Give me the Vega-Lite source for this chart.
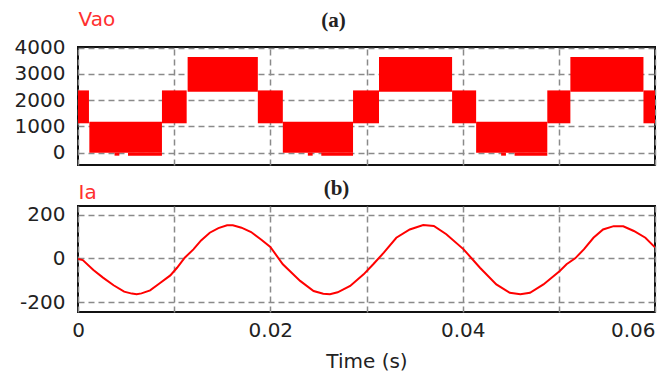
{
  "$schema": "https://vega.github.io/schema/vega-lite/v6.json",
  "background": "white",
  "padding": {"left": 13, "top": 8, "right": 2, "bottom": 2},
  "spacing": 10,
  "config": {
    "view": {"stroke": "#111", "strokeWidth": 2},
    "axis": {
      "gridColor": "#8a8a8a", "gridDash": [6, 4], "gridWidth": 1.5, "gridOpacity": 1,
      "domain": false, "ticks": false,
      "labelFont": "DejaVu Sans", "labelFontSize": 20, "labelColor": "#222",
      "titleFont": "DejaVu Sans", "titleFontWeight": "normal"
    }
  },
  "vconcat": [
    {
      "width": 577, "height": 118,
      "data": {"values": [
        {"t0": 0, "t1": 0.00114, "lo": 1120, "hi": 2370},
        {"t0": 0.00118, "t1": 0.00873, "lo": 0, "hi": 1180},
        {"t0": 0.0038, "t1": 0.0043, "lo": -110, "hi": 0},
        {"t0": 0.0052, "t1": 0.00873, "lo": -110, "hi": 0},
        {"t0": 0.00873, "t1": 0.0113, "lo": 1120, "hi": 2370},
        {"t0": 0.0114, "t1": 0.0187, "lo": 2320, "hi": 3640},
        {"t0": 0.0187, "t1": 0.0213, "lo": 1120, "hi": 2370},
        {"t0": 0.0213, "t1": 0.0286, "lo": 0, "hi": 1180},
        {"t0": 0.0239, "t1": 0.0244, "lo": -110, "hi": 0},
        {"t0": 0.0253, "t1": 0.0286, "lo": -110, "hi": 0},
        {"t0": 0.0286, "t1": 0.0313, "lo": 1120, "hi": 2370},
        {"t0": 0.0313, "t1": 0.0389, "lo": 2320, "hi": 3640},
        {"t0": 0.0389, "t1": 0.0414, "lo": 1120, "hi": 2370},
        {"t0": 0.0414, "t1": 0.0488, "lo": 0, "hi": 1180},
        {"t0": 0.0440, "t1": 0.0445, "lo": -110, "hi": 0},
        {"t0": 0.0454, "t1": 0.0488, "lo": -110, "hi": 0},
        {"t0": 0.0488, "t1": 0.0512, "lo": 1120, "hi": 2370},
        {"t0": 0.0512, "t1": 0.0588, "lo": 2320, "hi": 3640},
        {"t0": 0.0588, "t1": 0.06, "lo": 1120, "hi": 2370}
      ]},
      "mark": {"type": "rect", "color": "#ff0000", "clip": true},
      "encoding": {
        "x": {"field": "t0", "type": "quantitative",
              "scale": {"domain": [0, 0.06], "nice": false, "zero": false},
              "axis": {"orient": "top", "values": [0, 0.01, 0.02, 0.03, 0.04, 0.05, 0.06], "labels": false,
                       "title": "(a)", "titleFont": "Liberation Serif", "titleFontSize": 21, "titleFontWeight": "bold",
                       "titleColor": "#222", "titlePadding": 17, "titleX": 255}},
        "x2": {"field": "t1"},
        "y": {"field": "lo", "type": "quantitative",
              "scale": {"domain": [-465, 4020], "nice": false, "zero": false},
              "axis": {"values": [0, 1000, 2000, 3000, 4000], "labelExpr": "'' + datum.value", "labelPadding": 13,
                       "title": "Vao", "titleAngle": 0, "titleAlign": "left", "titleBaseline": "alphabetic",
                       "titleX": 0, "titleY": -22, "titleColor": "#ff3030", "titleFontSize": 20}},
        "y2": {"field": "hi"}
      }
    },
    {
      "width": 577, "height": 106,
      "data": {"values": [
        {"t": 0, "ia": -3}, {"t": 0.0005, "ia": -8}, {"t": 0.0016, "ia": -53}, {"t": 0.0026, "ia": -88},
        {"t": 0.0037, "ia": -123}, {"t": 0.0048, "ia": -152}, {"t": 0.0056, "ia": -161}, {"t": 0.0061, "ia": -164},
        {"t": 0.0066, "ia": -160}, {"t": 0.0075, "ia": -146}, {"t": 0.0085, "ia": -114}, {"t": 0.0096, "ia": -78},
        {"t": 0.0103, "ia": -43}, {"t": 0.0111, "ia": 3}, {"t": 0.012, "ia": 41}, {"t": 0.0128, "ia": 82},
        {"t": 0.0137, "ia": 117}, {"t": 0.0146, "ia": 138}, {"t": 0.0155, "ia": 151}, {"t": 0.0161, "ia": 151},
        {"t": 0.017, "ia": 140}, {"t": 0.018, "ia": 120}, {"t": 0.0191, "ia": 84}, {"t": 0.02, "ia": 52},
        {"t": 0.0213, "ia": -27}, {"t": 0.0231, "ia": -103}, {"t": 0.0245, "ia": -149}, {"t": 0.0255, "ia": -162},
        {"t": 0.0262, "ia": -164}, {"t": 0.027, "ia": -155}, {"t": 0.0283, "ia": -126}, {"t": 0.0297, "ia": -73},
        {"t": 0.0307, "ia": -27}, {"t": 0.0318, "ia": 26}, {"t": 0.0331, "ia": 94}, {"t": 0.0345, "ia": 132},
        {"t": 0.0359, "ia": 152}, {"t": 0.037, "ia": 148}, {"t": 0.0383, "ia": 110}, {"t": 0.0401, "ia": 41},
        {"t": 0.0418, "ia": -43}, {"t": 0.0435, "ia": -119}, {"t": 0.0449, "ia": -157}, {"t": 0.046, "ia": -164},
        {"t": 0.047, "ia": -157}, {"t": 0.0484, "ia": -119}, {"t": 0.0501, "ia": -58}, {"t": 0.0508, "ia": -27},
        {"t": 0.0517, "ia": 0}, {"t": 0.0526, "ia": 41}, {"t": 0.0536, "ia": 94}, {"t": 0.0546, "ia": 132},
        {"t": 0.0557, "ia": 147}, {"t": 0.0567, "ia": 146}, {"t": 0.0578, "ia": 125}, {"t": 0.059, "ia": 94},
        {"t": 0.06, "ia": 50}
      ]},
      "resolve": {"axis": {"x": "independent"}},
      "layer": [
        {
          "mark": {"type": "line", "color": "#ff0000", "strokeWidth": 2, "clip": true},
          "encoding": {
            "x": {"field": "t", "type": "quantitative",
                  "scale": {"domain": [0, 0.06], "nice": false, "zero": false},
                  "axis": {"values": [0, 0.01, 0.02, 0.03, 0.04, 0.05, 0.06],
                           "labelExpr": "round(datum.value * 100) % 2 == 0 ? '' + round(datum.value * 100) / 100 : ''",
                           "labelAlign": {"condition": {"test": "datum.value > 0.055", "value": "right"}, "value": "center"},
                           "labelPadding": 8, "labelBound": false,
                           "title": "Time (s)", "titleFontSize": 20, "titleColor": "#222", "titlePadding": 11}},
            "y": {"field": "ia", "type": "quantitative",
                  "scale": {"domain": [-245, 239], "nice": false, "zero": false},
                  "axis": {"values": [-200, -100, 0, 100, 200],
                           "labelExpr": "datum.value % 200 == 0 ? '' + datum.value : ''", "labelPadding": 13,
                           "title": "Ia", "titleAngle": 0, "titleAlign": "left", "titleBaseline": "alphabetic",
                           "titleX": 0, "titleY": -8, "titleColor": "#ff3030", "titleFontSize": 20}}
          }
        },
        {
          "mark": {"type": "line", "opacity": 0, "clip": true},
          "encoding": {
            "x": {"field": "t", "type": "quantitative",
                  "axis": {"orient": "top", "labels": false, "grid": false,
                           "title": "(b)", "titleFont": "Liberation Serif", "titleFontSize": 21, "titleFontWeight": "bold",
                           "titleColor": "#222", "titlePadding": 8, "titleX": 258}},
            "y": {"field": "ia", "type": "quantitative"}
          }
        }
      ]
    }
  ]
}
